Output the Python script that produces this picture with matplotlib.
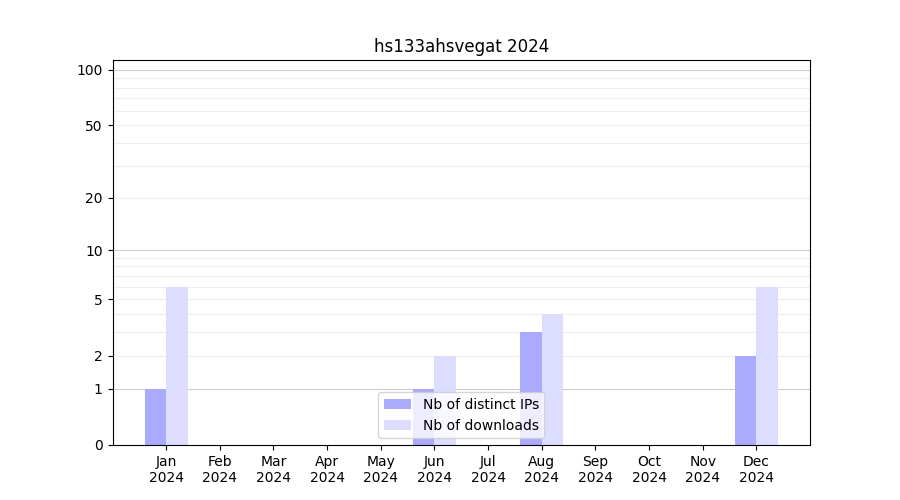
#!/usr/bin/env python3

import numpy as np
import matplotlib
matplotlib.use("Agg")
import matplotlib.pyplot as plt

# monthly stats
months = ["Jan", "Feb", "Mar", "Apr", "May", "Jun", "Jul", "Aug", "Sep", "Oct", "Nov", "Dec"]
year = "2024"
distinct_ips = [1, 0, 0, 0, 0, 1, 0, 3, 0, 0, 0, 2]
downloads = [6, 0, 0, 0, 0, 2, 0, 4, 0, 0, 0, 6]
ytick_values = [0, 1, 2, 5, 10, 20, 50, 100]


def forward(y):
    return np.log10(1 + np.asarray(y, dtype=float))


def inverse(y):
    return 10 ** np.asarray(y, dtype=float) - 1


fig, ax = plt.subplots(figsize=(9, 5), dpi=100)
ax.set_yscale("function", functions=(forward, inverse))

x = np.arange(len(months))
width = 0.4

#Background grid lines
for dec in [1, 10]:
    for m in range(2, 10):
        ax.axhline(m * dec, color="#eeeeee", linewidth=0.8, zorder=0)
for v in [1, 10, 100]:
    ax.axhline(v, color="#cccccc", linewidth=0.8, zorder=0)

ax.bar(x - width / 2, distinct_ips, width, color="#aaaaff", label="Nb of distinct IPs", zorder=2)
ax.bar(x + width / 2, downloads, width, color="#ddddff", label="Nb of downloads", zorder=2)

ax.set_xticks(x)
ax.set_xticklabels([m + "\n" + year for m in months])
ax.set_xlim(-1, 12)
ax.set_ylim(0, 113)
ax.set_yticks(ytick_values)
ax.set_yticklabels([str(v) for v in ytick_values])
ax.minorticks_off()
ax.set_title("hs133ahsvegat " + year)
ax.legend(loc="lower center")

plt.savefig("out.png")
